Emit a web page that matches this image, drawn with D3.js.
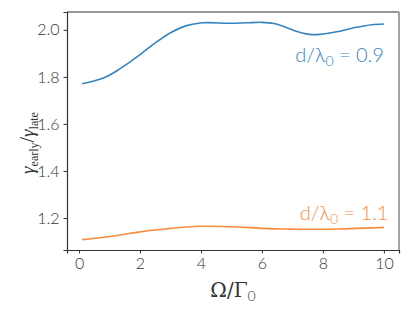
<!DOCTYPE html>
<html>
<head>
<meta charset="utf-8">
<script src="https://cdn.jsdelivr.net/npm/d3@7"></script>
<style>
  body { margin: 0; background: #fff; }
  svg text { font-family: Lato, "Open Sans", sans-serif; }
</style>
</head>
<body>
<div id="chart"></div>
<script>
// data
const omega = [0.1, 0.8, 1.35, 1.9, 2.4, 3.0, 3.5, 4.05, 4.95, 5.5, 6.0, 6.4, 6.8, 7.1, 7.55, 7.9, 8.45, 9.1, 9.6, 10.0];
const ratio09 = [1.771, 1.795, 1.835, 1.885, 1.935, 1.988, 2.017, 2.030, 2.028, 2.030, 2.032, 2.027, 2.010, 1.995, 1.981, 1.981, 1.992, 2.011, 2.022, 2.025];
const ratio11 = [1.108, 1.118, 1.128, 1.139, 1.148, 1.156, 1.162, 1.165, 1.163, 1.160, 1.156, 1.154, 1.153, 1.152, 1.152, 1.152, 1.153, 1.156, 1.158, 1.160];
const xTicks = [0, 2, 4, 6, 8, 10];
const yTicks = [1.2, 1.4, 1.6, 1.8, 2.0];

const width = 415, height = 309;
const margin = {top: 12, right: 16, bottom: 59, left: 67};

const svg = d3.select('#chart')
    .append('svg')
    .attr('width', width)
    .attr('height', height);

const x = d3.scaleLinear()
    .domain([-0.395, 10.495])
    .range([margin.left, width - margin.right]);
const y = d3.scaleLinear()
    .domain([1.064, 2.076])
    .range([height - margin.bottom, margin.top]);

// axes
const xAxis = svg.append('g')
    .attr('transform', `translate(0,${height - margin.bottom})`)
    .call(d3.axisBottom(x).tickValues(xTicks).tickFormat(d3.format('d')).tickSizeOuter(0).tickSize(3.5).tickPadding(4));
const yAxis = svg.append('g')
    .attr('transform', `translate(${margin.left},0)`)
    .call(d3.axisLeft(y).tickValues(yTicks).tickFormat(d3.format('.1f')).tickSizeOuter(0).tickSize(3.5).tickPadding(4));

[xAxis, yAxis].forEach(g => {
    g.select('.domain').attr('stroke', '#333').attr('stroke-width', 1.2);
    g.selectAll('.tick line').attr('stroke', '#333');
    g.selectAll('.tick text')
        .attr('fill', '#333')
        .attr('font-size', 16)
        .attr('font-weight', 300);
});

// top and right spines
svg.append('line')
    .attr('x1', margin.left).attr('x2', width - margin.right)
    .attr('y1', margin.top).attr('y2', margin.top)
    .attr('stroke', '#333').attr('stroke-width', 1.2);
svg.append('line')
    .attr('x1', width - margin.right).attr('x2', width - margin.right)
    .attr('y1', margin.top).attr('y2', height - margin.bottom)
    .attr('stroke', '#999').attr('stroke-width', 1.8);

// curves
const line = vals => d3.line()
    .x((d, i) => x(omega[i]))
    .y(d => y(d))
    .curve(d3.curveCatmullRom.alpha(0.5))(vals);

svg.append('path')
    .attr('d', line(ratio09))
    .attr('fill', 'none')
    .attr('stroke', '#3584c0')
    .attr('stroke-width', 1.6);
svg.append('path')
    .attr('d', line(ratio11))
    .attr('fill', 'none')
    .attr('stroke', '#fb8a3c')
    .attr('stroke-width', 1.6);

// curve labels
function curveLabel(xPos, yPos, val, color) {
    const t = svg.append('text')
        .attr('x', xPos).attr('y', yPos)
        .attr('text-anchor', 'end')
        .attr('fill', color)
        .attr('font-size', 20)
        .attr('font-weight', 300);
    t.append('tspan').text('d/λ');
    t.append('tspan').attr('font-size', 14).attr('dy', 4).text('0');
    t.append('tspan').attr('dy', -4).text(' = ' + val);
}
curveLabel(x(10), 62, '0.9', '#3584c0');
curveLabel(x(10.15), 220, '1.1', '#fb8a3c');

// axis titles
const xt = svg.append('text')
    .attr('x', (margin.left + width - margin.right) / 2)
    .attr('y', 297)
    .attr('text-anchor', 'middle')
    .attr('fill', '#333')
    .attr('font-size', 20)
    .style('font-family', '"DejaVu Serif", "Liberation Serif", serif');
xt.append('tspan').text('Ω/Γ');
xt.append('tspan').attr('font-size', 14).attr('dy', 4)
    .style('font-family', 'Lato, sans-serif').attr('font-weight', 300).text('0');

const yt = svg.append('text')
    .attr('transform', `translate(34,143) rotate(-90)`)
    .attr('text-anchor', 'middle')
    .attr('fill', '#333')
    .attr('font-size', 19)
    .style('font-family', '"Liberation Serif", serif');
yt.append('tspan').attr('font-style', 'italic').text('γ');
yt.append('tspan').attr('font-size', 12).attr('dy', 4).text('early');
yt.append('tspan').attr('dy', -4).attr('font-size', 20).text('/');
yt.append('tspan').attr('font-style', 'italic').text('γ');
yt.append('tspan').attr('font-size', 12).attr('dy', 4).text('late');
</script>
</body>
</html>
